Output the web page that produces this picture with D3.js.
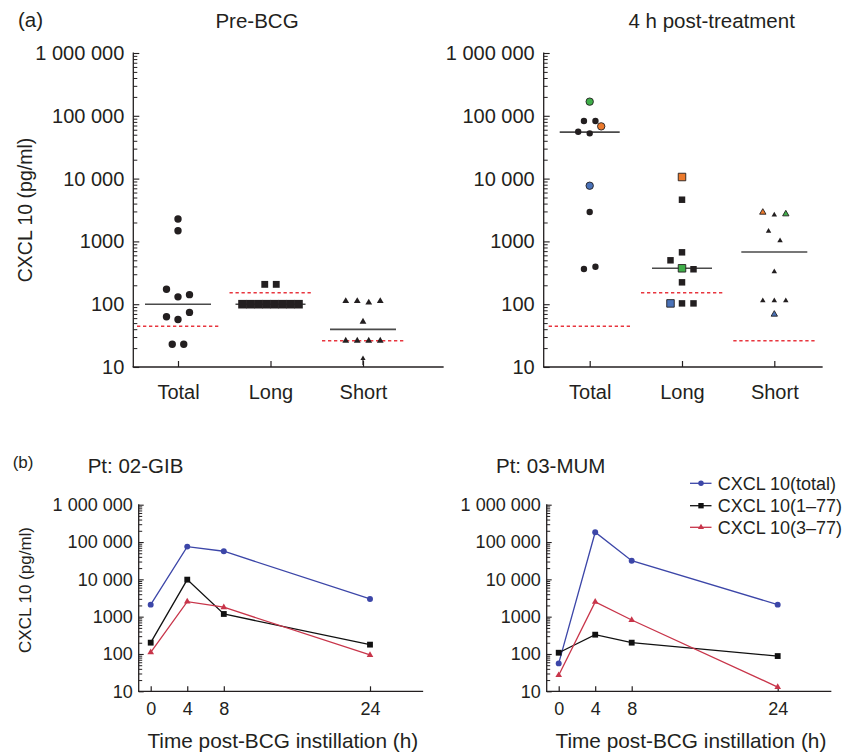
<!DOCTYPE html>
<html><head><meta charset="utf-8">
<script src="https://cdn.jsdelivr.net/npm/d3@7"></script>
<style>
body{margin:0;background:#fff}
svg{display:block;font-family:"Liberation Sans",Arial,Helvetica,sans-serif}
</style></head><body>
<svg id="c" width="856" height="752"></svg>
<script>
// ---------------- DATA ----------------
const categories = ["Total", "Long", "Short"];
const topTitles = ["Pre-BCG", "4 h post-treatment"];
const yTickValues = [10, 100, 1000, 10000, 100000, 1000000];
const yLabel = "CXCL 10 (pg/ml)";

// rows of similar values shown side by side; [value, patient] marks highlighted patients; null = below detection limit
const preTotal  = [[2275], [1480], [173, 131, 142], [63, 57, 74], [23, 23]];
const preLong   = [[207, 207], [100, 100, 100, 100, 100, 100, 100, 100]];
const preShort  = [[112, 112, 106, 112], [52.6], [26.2, 26.2, 26.2, 26.2], [null]];
const postTotal = [[[168000, "A"]], [82600, 82600], [55800, 52500, [67900, "B"]], [[7700, "C"]], [2940], [363, 395]];
const postLong  = [[[10600, "B"]], [4610], [670], [500, [373, "A"], 360], [223], [[103, "C"], 103, 103]];
const postShort = [[[2900, "B"], 2630, [2730, "A"]], [1450, 1026], [330], [114, 114, 114], [[69, "C"]]];
const preMedian  = [100, 100, 39.8];
const postMedian = [55000, 373, 678];
const detectionLevel = [44.5, 152, 26.2];
const patientColors = {A: "#3fae49", B: "#ec7a2c", C: "#4a72b8"};

const timePoints = [0, 4, 8, 24];
const seriesNames = ["CXCL 10(total)", "CXCL 10(1–77)", "CXCL 10(3–77)"];
const gibTotal = [2100, 75300, 56600, 2980];
const gib177   = [201, 9820, 1180, 178];
const gib377   = [111, 2520, 1790, 94];
const mumTotal = [56, 183000, 31700, 2100];
const mum177   = [108, 329, 201, 88];
const mum377   = [27, 2480, 813, 13];
const bottomTitles = ["Pt: 02-GIB", "Pt: 03-MUM"];
const xLabel = "Time post-BCG instillation (h)";

// ---------------- DRAWING ----------------
const svg = d3.select("#c");
const INK = "#231f20";
const seriesColors = ["#3c46a8", "#111111", "#c8354a"];
const seriesSymbols = [d3.symbolCircle, d3.symbolSquare, d3.symbolTriangle];

const fmt = v => v >= 10000 ? d3.format(",")(v).replace(/,/g, " ") : String(v);
const minorTicks = [];
for (let e = 1; e < 6; e++) for (let m = 2; m < 10; m++) minorTicks.push(m * Math.pow(10, e));

function drawYAxis(y, x0, majorLen, minorLen, pad, fs) {
  const g = svg.append("g").attr("transform", `translate(${x0},0)`);
  g.append("g")
    .call(d3.axisLeft(y).tickValues(yTickValues).tickFormat(fmt).tickSizeInner(-majorLen).tickSizeOuter(0).tickPadding(pad))
    .call(s => s.select(".domain").remove())
    .call(s => s.selectAll("line").attr("stroke", INK).attr("stroke-width", 1.1))
    .call(s => s.selectAll("text").attr("fill", INK).attr("font-size", fs).attr("font-family", null));
  g.append("g")
    .call(d3.axisLeft(y).tickValues(minorTicks).tickFormat("").tickSizeInner(-minorLen).tickSizeOuter(0))
    .call(s => s.select(".domain").remove())
    .call(s => s.selectAll("line").attr("stroke", INK).attr("stroke-width", 1));
  g.append("line").attr("x1", 0).attr("x2", 0).attr("y1", y.range()[0]).attr("y2", y.range()[1] - 0.5)
    .attr("stroke", INK).attr("stroke-width", 1.3);
}
function drawXLine(y0, x0, x1) {
  svg.append("line").attr("x1", x0).attr("x2", x1).attr("y1", y0).attr("y2", y0)
    .attr("stroke", INK).attr("stroke-width", 1.3).attr("stroke-linecap", "square");
}
function text(x, y, s, fs, anchor, extra) {
  const t = svg.append("text").attr("x", x).attr("y", y).attr("font-size", fs)
    .attr("fill", INK).attr("text-anchor", anchor || "start").text(s);
  if (extra) extra(t);
  return t;
}

// ---------- Top panels ----------
const yTop = d3.scaleLog().domain([10, 1000000]).range([367, 53]);
const topPanels = [
  {x0: 133.3, x1: 443, c0: 178, c1: 363, groups: [preTotal, preLong, preShort], med: preMedian,
   title: topTitles[0], tx: 257, sz: {circle: 43, square: 47, triangle: 20}, medW: [66, 70, 66]},
  {x0: 543.7, x1: 822, c0: 589.7, c1: 774.3, groups: [postTotal, postLong, postShort], med: postMedian,
   title: topTitles[1], tx: 711.7, sz: {circle: 32, square: 42, triangle: 13}, medW: [60, 60, 66]}
];
const shapeOf = [d3.symbolCircle, d3.symbolSquare, d3.symbolTriangle];
const shapeKey = ["circle", "square", "triangle"];

topPanels.forEach(p => {
  const x = d3.scalePoint().domain(categories).range([p.c0, p.c1]);
  drawYAxis(yTop, p.x0, 6, 4, 9, 20);
  drawXLine(yTop(10), p.x0, p.x1);
  svg.append("g").attr("transform", `translate(0,${yTop(10)})`)
    .call(d3.axisBottom(x).tickSizeInner(-6).tickSizeOuter(0).tickPadding(17.5))
    .call(s => s.select(".domain").remove())
    .call(s => s.selectAll("line").attr("stroke", INK).attr("stroke-width", 1.2))
    .call(s => s.selectAll("text").attr("fill", INK).attr("font-size", 20).attr("font-family", null));
  text(p.tx, 28, p.title, 20.5, "middle");

  categories.forEach((cat, ci) => {
    const cx = x(cat);
    // detection level (red dashed)
    svg.append("line").attr("x1", cx - 41).attr("x2", cx + 41)
      .attr("y1", yTop(detectionLevel[ci])).attr("y2", yTop(detectionLevel[ci]))
      .attr("stroke", "#e8363f").attr("stroke-width", 1.5).attr("stroke-dasharray", "3.3,2.7");
    // median
    svg.append("line").attr("x1", cx - p.medW[ci] / 2).attr("x2", cx + p.medW[ci] / 2)
      .attr("y1", yTop(p.med[ci])).attr("y2", yTop(p.med[ci]))
      .attr("stroke", "#4a4a4a").attr("stroke-width", 1.6);
    // points
    p.groups[ci].forEach(row => {
      const n = row.length;
      const sp = n > 1 ? Math.min(11.5, 56 / (n - 1)) : 0;
      row.forEach((pt, i) => {
        const [v, pat] = Array.isArray(pt) ? pt : [pt, null];
        const px = cx + (i - (n - 1) / 2) * sp;
        if (v === null) {
          const yb = yTop(10);
          svg.append("line").attr("x1", px).attr("x2", px).attr("y1", yb - 2).attr("y2", yb - 8)
            .attr("stroke", INK).attr("stroke-width", 1.2);
          svg.append("path").attr("d", `M${px},${yb - 11.5}L${px - 2.6},${yb - 7}L${px + 2.6},${yb - 7}Z`).attr("fill", INK);
          return;
        }
        let size = p.sz[shapeKey[ci]];
        if (pat) size *= 1.35;
        if (n > 4) size = Math.max(size, (sp + 0.6) * (sp + 0.6)); // dense rows merge into a bar
        svg.append("path")
          .attr("d", d3.symbol().type(shapeOf[ci]).size(size)())
          .attr("transform", `translate(${px},${yTop(v)})`)
          .attr("fill", pat ? patientColors[pat] : INK)
          .attr("stroke", pat ? INK : "none").attr("stroke-width", 0.9);
      });
    });
  });
});
// y label top
text(0, 0, yLabel, 19.5, "middle", t => t.attr("transform", "translate(32.3,210) rotate(-90)"));
text(18, 27, "(a)", 20.5, "start");

// ---------- Bottom panels ----------
const yBot = d3.scaleLog().domain([10, 1000000]).range([691.3, 504.7]);
const botPanels = [
  {x0: 138.7, x1: 422.5, t0: 150.7, t24: 370, data: [gibTotal, gib177, gib377], title: bottomTitles[0], tx: 87.7},
  {x0: 546.7, x1: 830.7, t0: 558.7, t24: 777.7, data: [mumTotal, mum177, mum377], title: bottomTitles[1], tx: 496}
];
const markerSizes = [28, 34, 19];
botPanels.forEach(p => {
  const x = d3.scaleLinear().domain([0, 24]).range([p.t0, p.t24]);
  drawYAxis(yBot, p.x0, 5, 3.5, 6, 18);
  drawXLine(yBot(10), p.x0, p.x1);
  svg.append("g").attr("transform", `translate(0,${yBot(10)})`)
    .call(d3.axisBottom(x).tickValues(timePoints).tickFormat(d3.format("d")).tickSizeInner(-5).tickSizeOuter(0).tickPadding(10.5))
    .call(s => s.select(".domain").remove())
    .call(s => s.selectAll("line").attr("stroke", INK).attr("stroke-width", 1.2))
    .call(s => s.selectAll("text").attr("fill", INK).attr("font-size", 18).attr("font-family", null));
  text(p.tx, 473.3, p.title, 20.5, "start");
  text((p.x0 + p.x1) / 2 + 2.2, 747.5, xLabel, 20.8, "middle");
  const line = d3.line().x((d, i) => x(timePoints[i])).y(d => yBot(d));
  p.data.forEach((series, si) => {
    svg.append("path").attr("d", line(series)).attr("fill", "none")
      .attr("stroke", seriesColors[si]).attr("stroke-width", 1.3);
    series.forEach((v, i) => {
      svg.append("path").attr("d", d3.symbol().type(seriesSymbols[si]).size(markerSizes[si])())
        .attr("transform", `translate(${x(timePoints[i])},${yBot(v)})`)
        .attr("fill", seriesColors[si]);
    });
  });
});
text(0, 0, yLabel, 17, "middle", t => t.attr("transform", "translate(31,590) rotate(-90)"));
text(12.7, 468, "(b)", 17, "start");

// legend
const legendY = [483.3, 505.7, 527.3];
seriesNames.forEach((name, si) => {
  const ly = legendY[si];
  svg.append("line").attr("x1", 690).attr("x2", 711.5).attr("y1", ly).attr("y2", ly)
    .attr("stroke", seriesColors[si]).attr("stroke-width", 1.3);
  svg.append("path").attr("d", d3.symbol().type(seriesSymbols[si]).size(markerSizes[si] * 0.85)())
    .attr("transform", `translate(701,${ly})`).attr("fill", seriesColors[si]);
  text(717.7, ly, name, 18, "start", t => t.attr("dy", "0.35em"));
});
</script>
</body></html>
